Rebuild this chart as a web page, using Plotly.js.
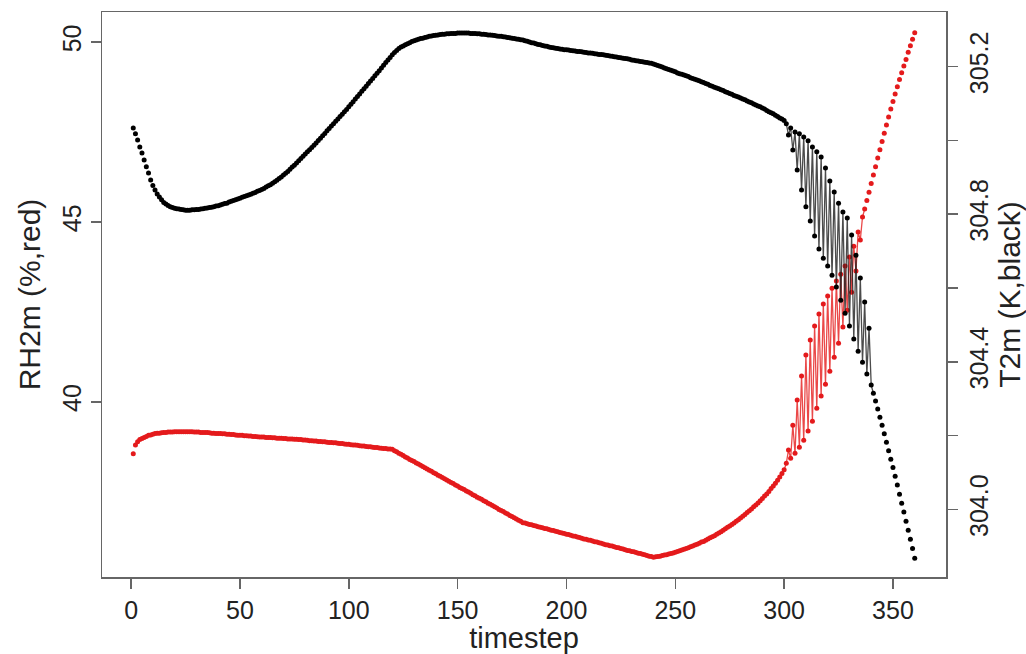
<!DOCTYPE html>
<html>
<head>
<meta charset="utf-8">
<script src="https://cdn.plot.ly/plotly-3.0.1.min.js"></script>
<style>html,body{margin:0;padding:0;background:#fff;}#chart{width:1026px;height:654px;}</style>
</head>
<body>
<div id="chart"></div>
<script>
// timestep index 1..360
const timestep = Array.from({length: 360}, (_, i) => i + 1);

// RH2m (%), red series
const rh2m = [
38.56,38.80,38.89,38.95,38.98,39.01,39.04,39.07,39.08,39.10,
39.12,39.13,39.13,39.14,39.15,39.15,39.16,39.16,39.16,39.17,
39.17,39.17,39.17,39.17,39.17,39.17,39.17,39.17,39.16,39.16,
39.16,39.15,39.15,39.15,39.15,39.14,39.13,39.13,39.12,39.12,
39.12,39.11,39.11,39.10,39.10,39.09,39.09,39.08,39.07,39.07,
39.07,39.06,39.06,39.05,39.05,39.04,39.04,39.03,39.02,39.02,
39.02,39.01,39.01,39.01,39.00,39.00,38.99,38.99,38.99,38.98,
38.98,38.97,38.97,38.97,38.96,38.96,38.95,38.95,38.94,38.94,
38.93,38.92,38.92,38.91,38.91,38.90,38.90,38.89,38.89,38.88,
38.87,38.87,38.86,38.86,38.85,38.84,38.84,38.83,38.82,38.82,
38.81,38.80,38.80,38.79,38.78,38.77,38.77,38.76,38.75,38.75,
38.74,38.73,38.73,38.72,38.71,38.70,38.70,38.69,38.69,38.68,
38.64,38.61,38.57,38.54,38.51,38.47,38.44,38.40,38.37,38.34,
38.30,38.27,38.24,38.20,38.17,38.13,38.10,38.07,38.03,38.00,
37.96,37.93,37.90,37.86,37.83,37.79,37.76,37.73,37.69,37.66,
37.62,37.59,37.56,37.52,37.49,37.46,37.42,37.39,37.35,37.32,
37.29,37.25,37.22,37.18,37.15,37.12,37.08,37.05,37.01,36.98,
36.95,36.91,36.88,36.84,36.81,36.78,36.74,36.71,36.68,36.64,
36.63,36.61,36.59,36.58,36.56,36.55,36.53,36.51,36.50,36.48,
36.47,36.45,36.43,36.42,36.40,36.39,36.37,36.35,36.34,36.32,
36.31,36.29,36.27,36.26,36.24,36.23,36.21,36.19,36.18,36.16,
36.15,36.13,36.11,36.10,36.08,36.07,36.05,36.03,36.02,36.00,
35.99,35.97,35.95,35.94,35.92,35.91,35.89,35.87,35.86,35.84,
35.83,35.81,35.79,35.78,35.76,35.75,35.73,35.71,35.70,35.68,
35.69,35.70,35.71,35.73,35.74,35.75,35.77,35.78,35.80,35.82,
35.84,35.86,35.88,35.90,35.92,35.94,35.97,35.99,36.02,36.04,
36.07,36.10,36.12,36.15,36.19,36.22,36.25,36.28,36.32,36.35,
36.39,36.43,36.47,36.51,36.55,36.59,36.63,36.68,36.72,36.77,
36.82,36.87,36.92,36.97,37.02,37.08,37.13,37.19,37.25,37.31,
37.38,37.44,37.51,37.59,37.66,37.74,37.82,37.91,38.01,38.11,
38.29,38.66,38.43,39.35,38.57,40.05,38.74,40.72,38.93,41.30,
39.19,41.72,39.46,42.11,39.82,42.44,40.16,42.72,40.49,42.94,
40.85,43.16,41.24,43.36,41.63,43.55,42.08,43.78,42.55,44.03,
43.05,44.33,43.64,44.72,44.50,45.14,45.36,45.60,45.83,46.07,
46.31,46.54,46.78,47.01,47.24,47.47,47.70,47.92,48.14,48.35,
48.56,48.76,48.96,49.15,49.34,49.52,49.72,49.90,50.08,50.26
];

// T2m (K), black series
const t2m = [
305.034,305.018,305.001,304.982,304.966,304.947,304.929,304.912,304.893,304.878,
304.866,304.855,304.847,304.839,304.832,304.828,304.824,304.820,304.818,304.816,
304.815,304.814,304.813,304.812,304.811,304.811,304.811,304.812,304.812,304.813,
304.813,304.814,304.815,304.816,304.817,304.818,304.819,304.820,304.822,304.823,
304.825,304.827,304.829,304.830,304.833,304.835,304.837,304.839,304.841,304.843,
304.846,304.848,304.850,304.852,304.854,304.857,304.859,304.862,304.864,304.867,
304.870,304.874,304.877,304.880,304.884,304.888,304.892,304.897,304.901,304.906,
304.911,304.916,304.922,304.928,304.933,304.939,304.945,304.951,304.957,304.963,
304.969,304.975,304.981,304.987,304.993,305.000,305.006,305.013,305.019,305.026,
305.032,305.039,305.045,305.052,305.058,305.065,305.071,305.078,305.084,305.091,
305.098,305.105,305.112,305.119,305.126,305.133,305.140,305.147,305.154,305.161,
305.168,305.175,305.182,305.189,305.196,305.204,305.211,305.218,305.225,305.232,
305.238,305.244,305.249,305.253,305.256,305.259,305.262,305.265,305.268,305.270,
305.272,305.274,305.276,305.277,305.279,305.280,305.282,305.283,305.284,305.285,
305.286,305.287,305.288,305.288,305.289,305.289,305.290,305.290,305.290,305.291,
305.291,305.291,305.291,305.291,305.291,305.290,305.290,305.290,305.289,305.289,
305.288,305.288,305.287,305.286,305.286,305.285,305.284,305.283,305.282,305.282,
305.281,305.280,305.279,305.278,305.277,305.276,305.275,305.274,305.273,305.272,
305.270,305.269,305.267,305.265,305.264,305.262,305.260,305.259,305.257,305.256,
305.255,305.253,305.252,305.251,305.250,305.249,305.248,305.247,305.246,305.246,
305.245,305.244,305.243,305.242,305.241,305.241,305.240,305.239,305.238,305.237,
305.237,305.236,305.235,305.234,305.233,305.233,305.232,305.231,305.230,305.229,
305.228,305.227,305.226,305.225,305.224,305.223,305.222,305.221,305.220,305.218,
305.217,305.216,305.215,305.214,305.213,305.212,305.211,305.210,305.209,305.207,
305.205,305.203,305.201,305.199,305.196,305.194,305.192,305.190,305.188,305.186,
305.183,305.181,305.179,305.177,305.175,305.173,305.170,305.168,305.166,305.164,
305.162,305.159,305.157,305.154,305.152,305.149,305.147,305.144,305.142,305.140,
305.137,305.135,305.132,305.130,305.127,305.125,305.122,305.120,305.118,305.115,
305.112,305.110,305.107,305.104,305.102,305.099,305.096,305.093,305.091,305.088,
305.085,305.081,305.078,305.075,305.072,305.068,305.065,305.061,305.058,305.054,
305.045,305.015,305.034,304.974,305.023,304.920,305.018,304.866,305.009,304.820,
304.999,304.782,304.982,304.741,304.969,304.706,304.955,304.681,304.925,304.660,
304.890,304.635,304.860,304.603,304.830,304.567,304.806,304.532,304.790,304.497,
304.744,304.462,304.689,304.429,304.627,304.399,304.562,304.367,304.491,304.337,
304.315,304.294,304.272,304.250,304.228,304.205,304.182,304.159,304.136,304.114,
304.090,304.066,304.041,304.017,303.993,303.968,303.944,303.919,303.894,303.868
];

// axis ticks
const xTicks = [0, 50, 100, 150, 200, 250, 300, 350];
const rhTicks = [40, 45, 50];
const tTickVals = [304.0, 304.2, 304.4, 304.6, 304.8, 305.0, 305.2];
const tTickText = ['304.0', '', '304.4', '', '304.8', '', '305.2'];

// oscillating part (thin connecting strokes)
const rhBandX = timestep.slice(299, 337), rhBandY = rh2m.slice(299, 337);
const tBandX = timestep.slice(299, 341), tBandY = t2m.slice(299, 341);

const axisGray = '#666';
const fontFam = 'Liberation Sans, Arial, Helvetica, sans-serif';

const traces = [
  {x: rhBandX, y: rhBandY, type: 'scatter', mode: 'lines', yaxis: 'y',
   line: {color: 'rgba(230,40,40,0.85)', width: 1.3}, hoverinfo: 'skip'},
  {x: timestep, y: rh2m, type: 'scatter', mode: 'markers', yaxis: 'y', name: 'RH2m',
   marker: {color: '#e41a1c', size: 5}},
  {x: tBandX, y: tBandY, type: 'scatter', mode: 'lines', yaxis: 'y2',
   line: {color: 'rgba(30,30,30,0.8)', width: 1.3}, hoverinfo: 'skip'},
  {x: timestep, y: t2m, type: 'scatter', mode: 'markers', yaxis: 'y2', name: 'T2m',
   marker: {color: '#000', size: 5}}
];

const layout = {
  width: 1026, height: 654,
  margin: {l: 102, r: 80, t: 12, b: 77},
  paper_bgcolor: '#fff', plot_bgcolor: '#fff',
  showlegend: false,
  font: {family: fontFam, color: '#222', size: 25},
  xaxis: {
    range: [-13.36, 374.36], tickvals: xTicks, ticks: 'outside', ticklen: 10,
    tickwidth: 1.5, tickcolor: axisGray, showline: true, linecolor: axisGray, linewidth: 1.5,
    mirror: true, showgrid: false, zeroline: false, tickfont: {size: 25, color: '#222'},
    title: {text: 'timestep', font: {size: 29, color: '#222'}, standoff: 4}
  },
  yaxis: {
    range: [35.13, 50.84], tickvals: rhTicks, tickangle: -90, ticks: 'outside', ticklen: 10,
    tickwidth: 1.5, tickcolor: axisGray, showline: true, linecolor: axisGray, linewidth: 1.5,
    mirror: true, showgrid: false, zeroline: false, tickfont: {size: 25, color: '#222'},
    title: {text: 'RH2m (%,red)', font: {size: 30, color: '#222'}, standoff: 8}
  },
  yaxis2: {
    overlaying: 'y', side: 'right',
    range: [303.817, 305.348], tickvals: tTickVals, ticktext: tTickText, tickangle: -90,
    ticks: 'outside', ticklen: 10, tickwidth: 1.5, tickcolor: axisGray,
    showline: true, linecolor: axisGray, linewidth: 1.5,
    showgrid: false, zeroline: false, tickfont: {size: 25, color: '#222'},
    title: {text: 'T2m (K,black)', font: {size: 30, color: '#222'}, standoff: 4}
  }
};

Plotly.newPlot('chart', traces, layout, {staticPlot: true, displayModeBar: false});
</script>
</body>
</html>
